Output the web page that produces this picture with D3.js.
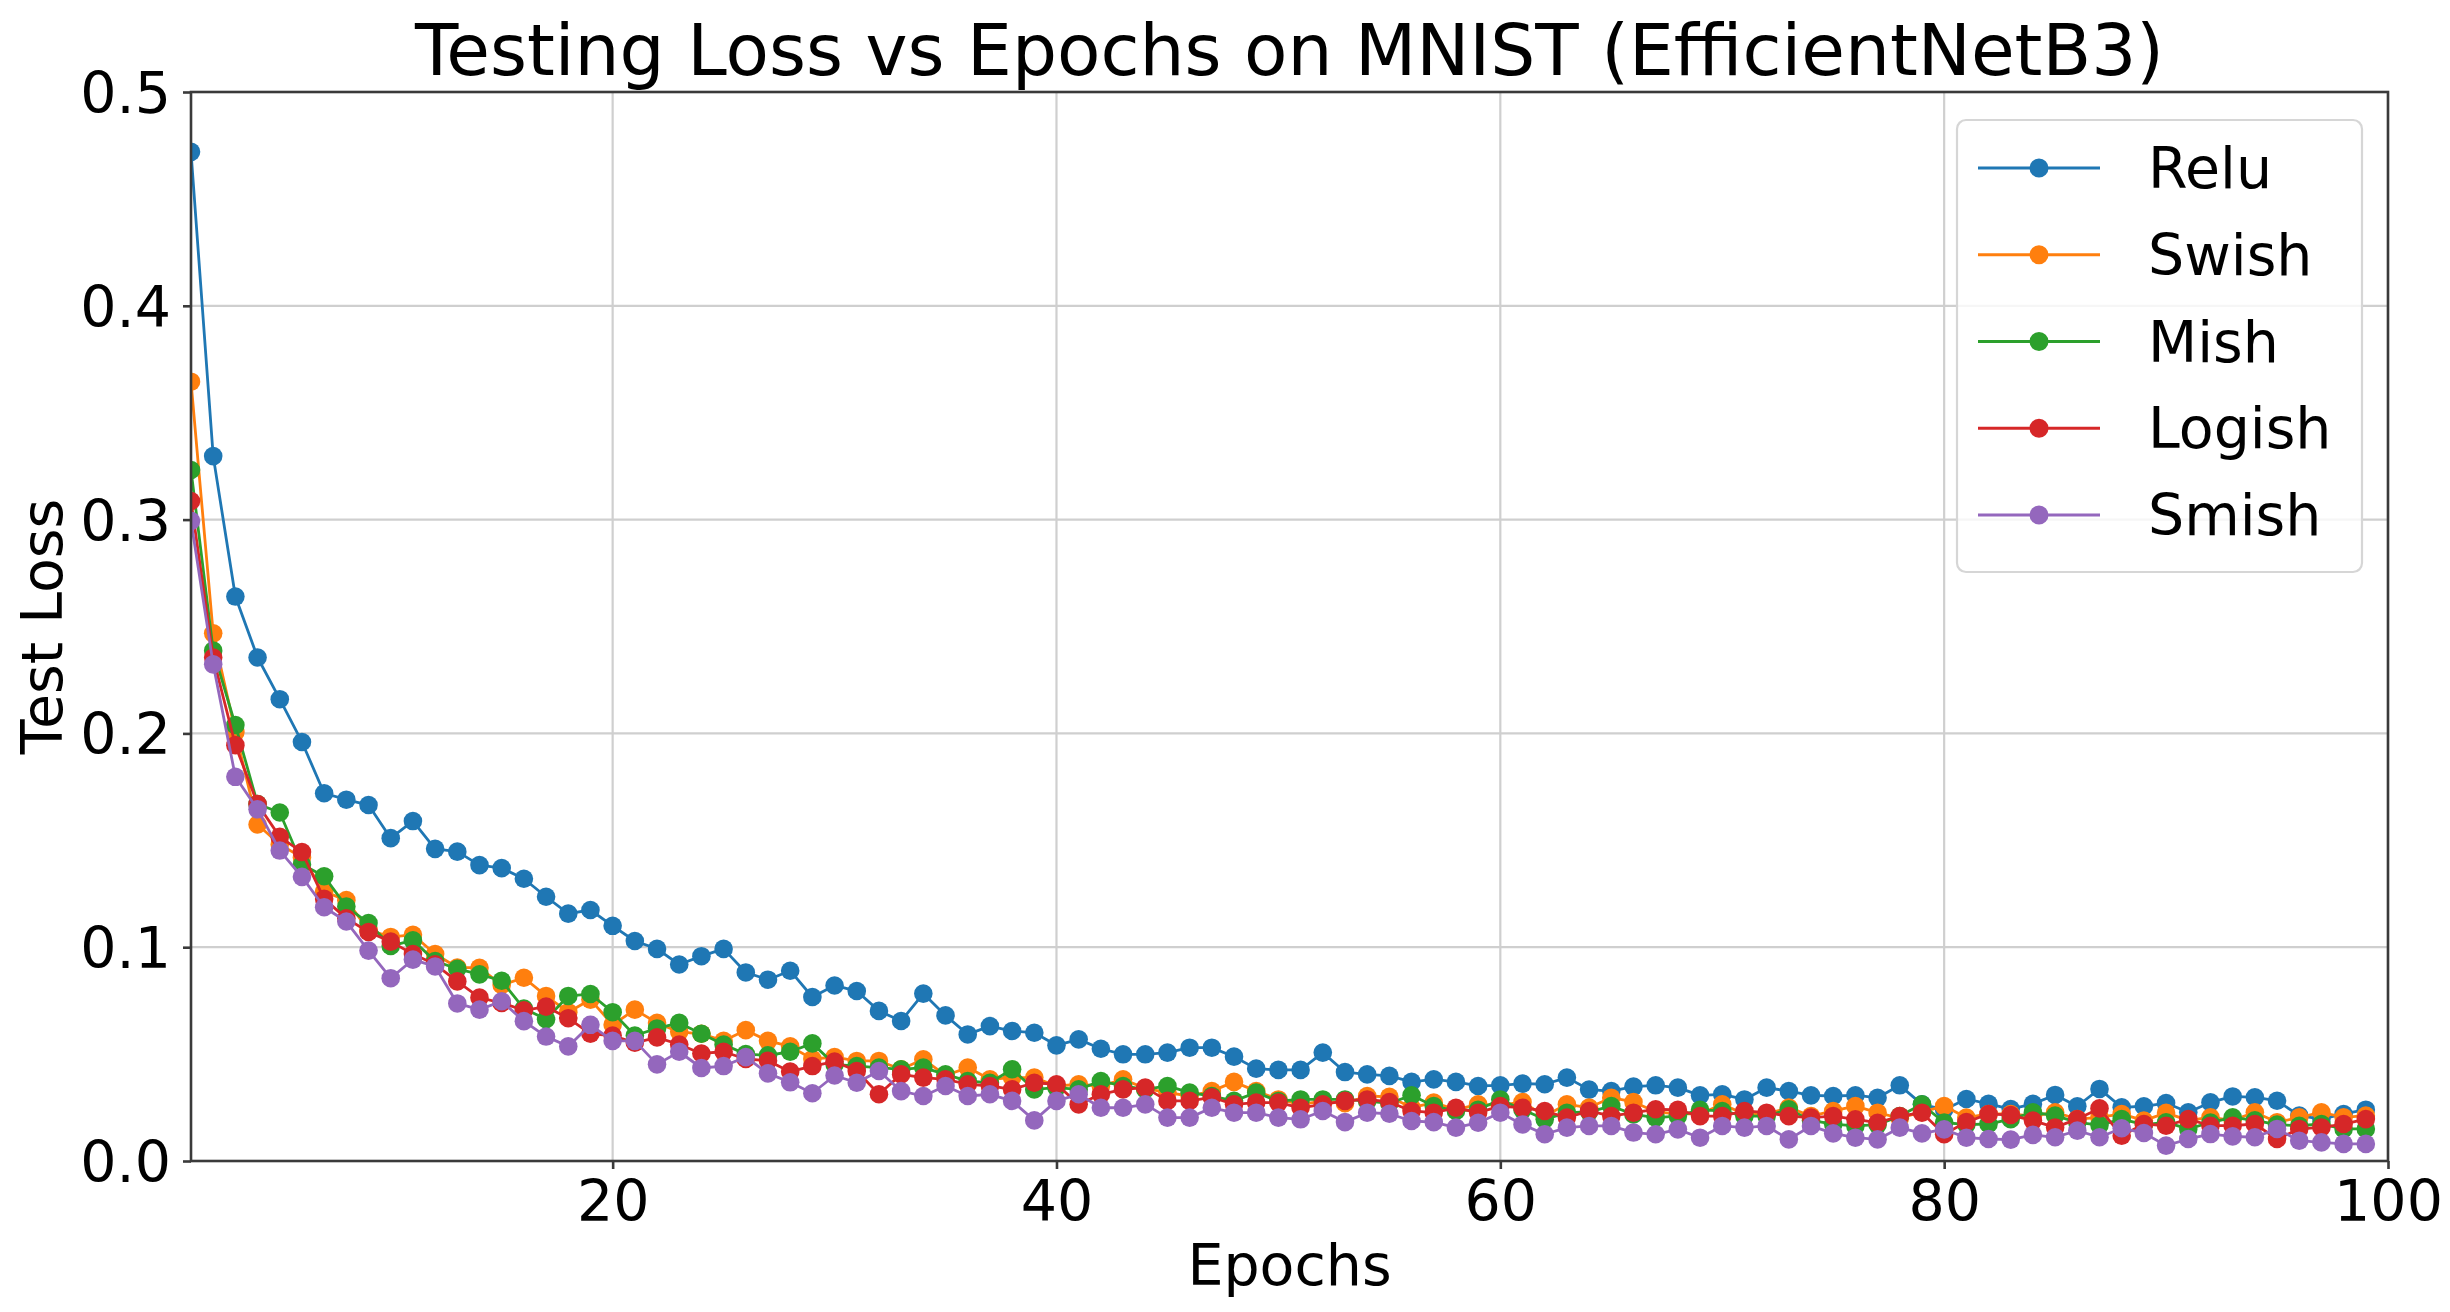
<!DOCTYPE html>
<html>
<head>
<meta charset="utf-8">
<script src="https://cdn.jsdelivr.net/npm/d3@7/dist/d3.min.js"></script>
<style>
  html, body { margin: 0; padding: 0; background: #fff; }
  svg { display: block; }
  text { font-family: "DejaVu Sans", sans-serif; fill: #000; }
</style>
</head>
<body>
<svg id="chart" width="2450" height="1312"></svg>
<script>
const epochs = d3.range(1, 100);

const relu = [0.472,0.3297,0.264,0.2355,0.216,0.196,0.172,0.169,0.1665,0.151,
0.159,0.146,0.1447,0.1384,0.137,0.132,0.1236,0.1157,0.1174,0.110,
0.1029,0.0992,0.0919,0.0958,0.0992,0.0882,0.0848,0.089,0.0767,0.0821,
0.0795,0.0702,0.0655,0.0783,0.0681,0.0592,0.0631,0.0608,0.060,0.0541,
0.0569,0.0525,0.0499,0.0499,0.0507,0.053,0.053,0.0488,0.0432,0.0426,
0.0426,0.0507,0.0416,0.0405,0.0398,0.037,0.0382,0.037,0.0351,0.0354,
0.0362,0.0359,0.039,0.0334,0.0327,0.0348,0.0354,0.0343,0.0307,0.0312,
0.0288,0.0343,0.0327,0.0307,0.0304,0.0307,0.0296,0.0354,0.0265,0.0240,
0.029,0.0267,0.0243,0.0267,0.0309,0.0256,0.0337,0.0251,0.0256,0.0271,
0.0228,0.0274,0.0302,0.0298,0.0282,0.0212,0.0196,0.022,0.024];

const swish = [0.3645,0.2468,0.2006,0.1574,0.148,0.142,0.126,0.122,0.108,0.1048,
0.1058,0.0968,0.0905,0.0904,0.0823,0.0857,0.0772,0.0696,0.0755,0.0637,
0.0708,0.0646,0.0604,0.0595,0.0562,0.0612,0.0562,0.0536,0.0477,0.0486,
0.0468,0.0468,0.0429,0.0476,0.0400,0.0437,0.0382,0.0390,0.039,0.035,
0.0359,0.035,0.0382,0.034,0.032,0.0304,0.0327,0.037,0.0327,0.0288,
0.0265,0.028,0.027,0.0304,0.030,0.025,0.0273,0.024,0.0265,0.026,
0.0276,0.021,0.0265,0.025,0.0296,0.0276,0.023,0.022,0.022,0.0265,
0.022,0.022,0.025,0.021,0.0234,0.0257,0.0226,0.020,0.023,0.0257,
0.0203,0.022,0.022,0.021,0.0228,0.0196,0.0204,0.022,0.0189,0.0225,
0.019,0.0204,0.019,0.0228,0.0181,0.0204,0.0228,0.0204,0.0212];

const mish = [0.3232,0.2387,0.2039,0.167,0.163,0.1387,0.1332,0.119,0.1113,0.1006,
0.1032,0.0935,0.0899,0.0873,0.0843,0.0713,0.0663,0.0772,0.0781,0.0696,
0.0587,0.062,0.0646,0.0595,0.0545,0.050,0.0494,0.0511,0.055,0.0452,
0.0444,0.0437,0.0429,0.0437,0.0405,0.0374,0.0366,0.0429,0.0335,0.0343,
0.0335,0.0374,0.0351,0.0335,0.0351,0.032,0.0304,0.0281,0.032,0.028,
0.0288,0.0288,0.0288,0.028,0.027,0.0307,0.0257,0.0234,0.024,0.0288,
0.024,0.0195,0.0226,0.023,0.0257,0.0218,0.0203,0.021,0.0239,0.0234,
0.021,0.021,0.0242,0.019,0.0172,0.0164,0.017,0.021,0.0265,0.018,
0.017,0.0173,0.0196,0.0228,0.0212,0.0181,0.0168,0.0196,0.017,0.0181,
0.015,0.018,0.0204,0.019,0.017,0.0165,0.0173,0.015,0.015];

const logish = [0.3087,0.2355,0.1945,0.167,0.1516,0.1445,0.1226,0.1135,0.1071,0.1026,
0.0968,0.092,0.084,0.0764,0.0739,0.0705,0.0722,0.0668,0.0595,0.0587,
0.0553,0.0578,0.0545,0.0503,0.0511,0.0477,0.0469,0.0418,0.0444,0.0465,
0.0421,0.0312,0.0405,0.039,0.0382,0.0359,0.0351,0.0335,0.0366,0.0359,
0.0265,0.0312,0.0335,0.0343,0.0281,0.0281,0.0298,0.0265,0.0273,0.0273,
0.0249,0.0265,0.0281,0.0288,0.0276,0.0234,0.0226,0.0249,0.0226,0.0257,
0.0249,0.0234,0.0203,0.0234,0.021,0.0226,0.0242,0.0239,0.021,0.021,
0.0234,0.0226,0.021,0.0203,0.021,0.0195,0.0179,0.021,0.0226,0.0125,
0.0182,0.022,0.0215,0.0189,0.0157,0.0196,0.0246,0.0118,0.0173,0.0165,
0.0196,0.0165,0.0165,0.0173,0.0103,0.015,0.0157,0.0173,0.0196];

const smish = [0.2994,0.2323,0.1797,0.1645,0.1452,0.1329,0.1187,0.112,0.0984,0.0855,
0.0942,0.091,0.0737,0.0708,0.0747,0.0654,0.0582,0.0536,0.0637,0.0562,
0.0562,0.0452,0.0511,0.0435,0.0444,0.0486,0.041,0.0368,0.0317,0.040,
0.0366,0.0421,0.0327,0.0304,0.0351,0.0304,0.0312,0.0281,0.019,0.0281,
0.0312,0.0249,0.0249,0.0265,0.0203,0.0203,0.0249,0.0226,0.0226,0.0203,
0.0195,0.0234,0.0182,0.0226,0.0221,0.0187,0.0182,0.0156,0.0179,0.0226,
0.0171,0.0125,0.0156,0.0164,0.0164,0.0133,0.0125,0.0148,0.0109,0.0164,
0.0156,0.0164,0.0101,0.0164,0.0129,0.0109,0.0101,0.0156,0.0129,0.0148,
0.0109,0.0103,0.010,0.0122,0.0111,0.0142,0.0111,0.0153,0.0131,0.0072,
0.0103,0.0126,0.0115,0.0111,0.015,0.0095,0.0087,0.008,0.008];

const seriesNames = ["Relu", "Swish", "Mish", "Logish", "Smish"];
const seriesColors = ["#1f77b4", "#ff7f0e", "#2ca02c", "#d62728", "#9467bd"];
const seriesValues = [relu, swish, mish, logish, smish];

const xTicks = [20, 40, 60, 80, 100];
const yTicks = [0, 0.1, 0.2, 0.3, 0.4, 0.5];

const titleText = "Testing Loss vs Epochs on MNIST (EfficientNetB3)";
const xLabel = "Epochs";
const yLabel = "Test Loss";

// ---- layout ----
const L = 191, R = 2388, T = 92, B = 1161;
const FS = 57;
const svg = d3.select("#chart");
svg.append("rect").attr("width", 2450).attr("height", 1312).attr("fill", "#fff");

const x = d3.scaleLinear().domain([1, 100]).range([L, R]);
const y = d3.scaleLinear().domain([0, 0.5]).range([B, T]);

svg.append("defs").append("clipPath").attr("id", "clip")
  .append("rect").attr("x", L).attr("y", T).attr("width", R - L).attr("height", B - T);

// grid
const grid = svg.append("g");
grid.selectAll(".gx").data(xTicks).join("line")
  .attr("x1", d => x(d)).attr("x2", d => x(d)).attr("y1", T).attr("y2", B)
  .attr("stroke", "#cfcfcf").attr("stroke-width", 2.2);
grid.selectAll(".gy").data(yTicks).join("line")
  .attr("x1", L).attr("x2", R).attr("y1", d => y(d)).attr("y2", d => y(d))
  .attr("stroke", "#cfcfcf").attr("stroke-width", 2.2);

// series
const plot = svg.append("g").attr("clip-path", "url(#clip)");
const line = d3.line().x((d, i) => x(epochs[i])).y(d => y(d));
seriesValues.forEach((vals, k) => {
  const g = plot.append("g");
  g.append("path").datum(vals).attr("d", line)
    .attr("fill", "none").attr("stroke", seriesColors[k]).attr("stroke-width", 2.8)
    .attr("stroke-linejoin", "round");
  g.selectAll("circle").data(vals).join("circle")
    .attr("cx", (d, i) => x(epochs[i])).attr("cy", d => y(d)).attr("r", 9.3)
    .attr("fill", seriesColors[k]);
});

// spines
svg.append("rect").attr("x", L).attr("y", T).attr("width", R - L).attr("height", B - T)
  .attr("fill", "none").attr("stroke", "#3a3a3a").attr("stroke-width", 2.6);

// axes
const xAxis = svg.append("g").attr("transform", `translate(0,${B})`)
  .call(d3.axisBottom(x).tickValues(xTicks).tickSize(8).tickPadding(10).tickFormat(d3.format("d")));
const yAxis = svg.append("g").attr("transform", `translate(${L},0)`)
  .call(d3.axisLeft(y).tickValues(yTicks).tickSize(8).tickPadding(12).tickFormat(d3.format(".1f")));
[xAxis, yAxis].forEach(a => {
  a.select(".domain").remove();
  a.selectAll(".tick line").attr("stroke", "#3a3a3a").attr("stroke-width", 2.6);
  a.selectAll(".tick text").attr("font-size", FS).attr("font-family", "DejaVu Sans").attr("fill", "#000");
});
xAxis.selectAll(".tick text").attr("dy", null).attr("y", null)
  .attr("transform", "translate(0,60)");
yAxis.selectAll(".tick text").attr("dy", "0.36em");

// title and labels
svg.append("text").attr("x", (L + R) / 2).attr("y", 75).attr("text-anchor", "middle")
  .attr("font-size", 71).text(titleText);
svg.append("text").attr("x", (L + R) / 2).attr("y", 1285).attr("text-anchor", "middle")
  .attr("font-size", FS).text(xLabel);
svg.append("text").attr("transform", `translate(62,${(T + B) / 2}) rotate(-90)`)
  .attr("text-anchor", "middle").attr("font-size", FS).text(yLabel);

// legend
const lg = svg.append("g");
lg.append("rect").attr("x", 1957).attr("y", 120).attr("width", 405).attr("height", 452)
  .attr("rx", 9).attr("fill", "#fff").attr("fill-opacity", 0.8)
  .attr("stroke", "#d6d6d6").attr("stroke-width", 2.2);
seriesNames.forEach((name, k) => {
  const cy = 168 + k * 86.75;
  lg.append("line").attr("x1", 1978).attr("x2", 2100).attr("y1", cy).attr("y2", cy)
    .attr("stroke", seriesColors[k]).attr("stroke-width", 3);
  lg.append("circle").attr("cx", 2039).attr("cy", cy).attr("r", 9.5).attr("fill", seriesColors[k]);
  lg.append("text").attr("x", 2148).attr("y", cy + 20).attr("font-size", FS).text(name);
});
</script>
</body>
</html>
